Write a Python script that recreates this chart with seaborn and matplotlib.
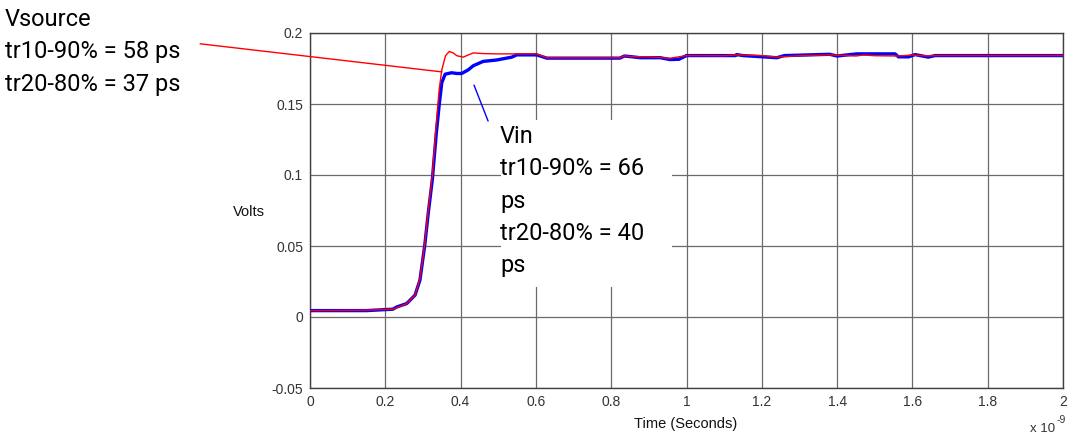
import matplotlib
matplotlib.use("Agg")
import matplotlib.pyplot as plt
from matplotlib.patches import Rectangle
import pandas as pd
import seaborn as sns

# time axis in ns (plotted as x 10^-9 s)
vsource_t = [0, 0.15, 0.22, 0.23, 0.257, 0.279, 0.292, 0.305, 0.314, 0.325,
             0.335, 0.343, 0.350, 0.360, 0.370, 0.380, 0.390, 0.407, 0.420,
             0.434, 0.46, 0.5, 0.55, 0.602, 0.629, 0.7, 0.8, 0.823, 0.835,
             0.85, 0.9, 0.956, 1.0, 1.1, 1.133, 1.2, 1.24, 1.3, 1.381, 1.45,
             1.47, 1.5, 1.56, 1.6, 1.64, 1.66, 2.0]
vsource_v = [0.0045, 0.0048, 0.0055, 0.0065, 0.0095, 0.0154, 0.027, 0.052,
             0.075, 0.100, 0.135, 0.160, 0.174, 0.184, 0.187, 0.186, 0.184,
             0.183, 0.1845, 0.186, 0.1855, 0.1853, 0.1853, 0.1853, 0.1825,
             0.1825, 0.1825, 0.1825, 0.184, 0.1834, 0.1832, 0.1822, 0.1841,
             0.184, 0.1846, 0.1841, 0.183, 0.184, 0.1846, 0.1838, 0.1845,
             0.184, 0.1838, 0.1845, 0.1838, 0.1841, 0.1841]

vin_t = [0, 0.15, 0.22, 0.23, 0.257, 0.279, 0.292, 0.305, 0.314, 0.325, 0.335,
         0.343, 0.350, 0.359, 0.376, 0.39, 0.403, 0.42, 0.434, 0.46, 0.496,
         0.536, 0.549, 0.602, 0.629, 0.8, 0.823, 0.835, 0.85, 0.877, 0.93,
         0.956, 0.98, 1.0, 1.13, 1.133, 1.15, 1.24, 1.26, 1.38, 1.40, 1.452,
         1.554, 1.563, 1.59, 1.607, 1.642, 1.66, 2.0]
vin_v = [0.0045, 0.0045, 0.0055, 0.007, 0.0095, 0.0154, 0.026, 0.051, 0.073,
         0.097, 0.128, 0.149, 0.165, 0.171, 0.172, 0.1715, 0.1715, 0.174,
         0.177, 0.180, 0.181, 0.183, 0.1846, 0.1846, 0.1823, 0.1823, 0.1823,
         0.1838, 0.1834, 0.1826, 0.1826, 0.1813, 0.1815, 0.1841, 0.1841,
         0.1848, 0.1841, 0.1826, 0.1841, 0.185, 0.1838, 0.1853, 0.1853,
         0.1832, 0.1832, 0.1848, 0.183, 0.1841, 0.1841]

x_ticks = [0, 0.2, 0.4, 0.6, 0.8, 1, 1.2, 1.4, 1.6, 1.8, 2]
x_labels = ["0", "0.2", "0.4", "0.6", "0.8", "1", "1.2", "1.4", "1.6", "1.8", "2"]
y_ticks = [-0.05, 0, 0.05, 0.1, 0.15, 0.2]
y_labels = ["-0.05", "0", "0.05", "0.1", "0.15", "0.2"]

vsource_note = "Vsource\ntr10-90% = 58 ps\ntr20-80% = 37 ps"
vin_note = "Vin\ntr10-90% = 66\nps\ntr20-80% = 40\nps"

sns.set_theme(style="whitegrid")
plt.rcParams["font.family"] = ["Liberation Sans", "DejaVu Sans"]
note_font = ["Roboto", "DejaVu Sans"]

fig = plt.figure(figsize=(10.73, 4.41), dpi=100)
ax = fig.add_axes([310 / 1073, 1 - 388 / 441, 753 / 1073, 355 / 441])

vin_df = pd.DataFrame({"t": vin_t, "v": vin_v})
src_df = pd.DataFrame({"t": vsource_t, "v": vsource_v})
sns.lineplot(data=vin_df, x="t", y="v", ax=ax, color="#0000ff", linewidth=2.4,
             estimator=None, sort=False, zorder=3)
sns.lineplot(data=src_df, x="t", y="v", ax=ax, color="#ff0000", linewidth=1.0,
             estimator=None, sort=False, zorder=4)

ax.set_xlim(0, 2)
ax.set_ylim(-0.05, 0.2)
ax.set_xticks(x_ticks, x_labels)
ax.set_yticks(y_ticks, y_labels)
ax.tick_params(axis="both", labelsize=10, labelcolor="#333333", length=0, pad=5)
ax.grid(True, color="#6a6a6a", linewidth=0.9)
for s in ax.spines.values():
    s.set_color("#404040")
    s.set_linewidth(1.0)

ax.set_xlabel("Time (Seconds)", fontsize=10.5, color="#111111")
ax.xaxis.set_label_coords(0.4993, -0.101)
ax.xaxis.label.set_va("center")
ax.set_ylabel("Volts", fontsize=10.5, color="#111111", rotation=0)
ax.yaxis.set_label_coords(-0.081, 0.496)
ax.yaxis.label.set_va("center")
ax.yaxis.label.set_ha("center")

ax.text(0.956, -0.124, "x 10", transform=ax.transAxes, fontsize=9.5,
        color="#333333", va="baseline", ha="left")
ax.text(0.991, -0.0986, "-9", transform=ax.transAxes, fontsize=7.5,
        color="#333333", va="baseline", ha="left")

# white box behind the Vin note
ax.add_patch(Rectangle((0.2537, 0.2845), 0.227, 0.4705, transform=ax.transAxes,
                       facecolor="white", edgecolor="none", zorder=2.5))

# leader lines
ax.annotate("", xy=(0.3506, 0.1726), xytext=(-0.292, 0.1924),
            arrowprops=dict(arrowstyle="-", color="#ff0000", lw=1.0,
                            shrinkA=0, shrinkB=0),
            annotation_clip=False, zorder=5)
ax.annotate("", xy=(0.4356, 0.1633), xytext=(0.473, 0.138),
            arrowprops=dict(arrowstyle="-", color="#0000ff", lw=1.0,
                            shrinkA=0, shrinkB=0),
            annotation_clip=False, zorder=5)

fig.text(5 / 1073, 1 - 8 / 441, vsource_note, fontsize=17, family=note_font,
         va="top", ha="left", linespacing=1.52, color="black")
fig.text(500 / 1073, 1 - 125 / 441, vin_note, fontsize=17, family=note_font,
         va="top", ha="left", linespacing=1.52, color="black", zorder=6)

fig.savefig("out.png", dpi=100, facecolor="white")
